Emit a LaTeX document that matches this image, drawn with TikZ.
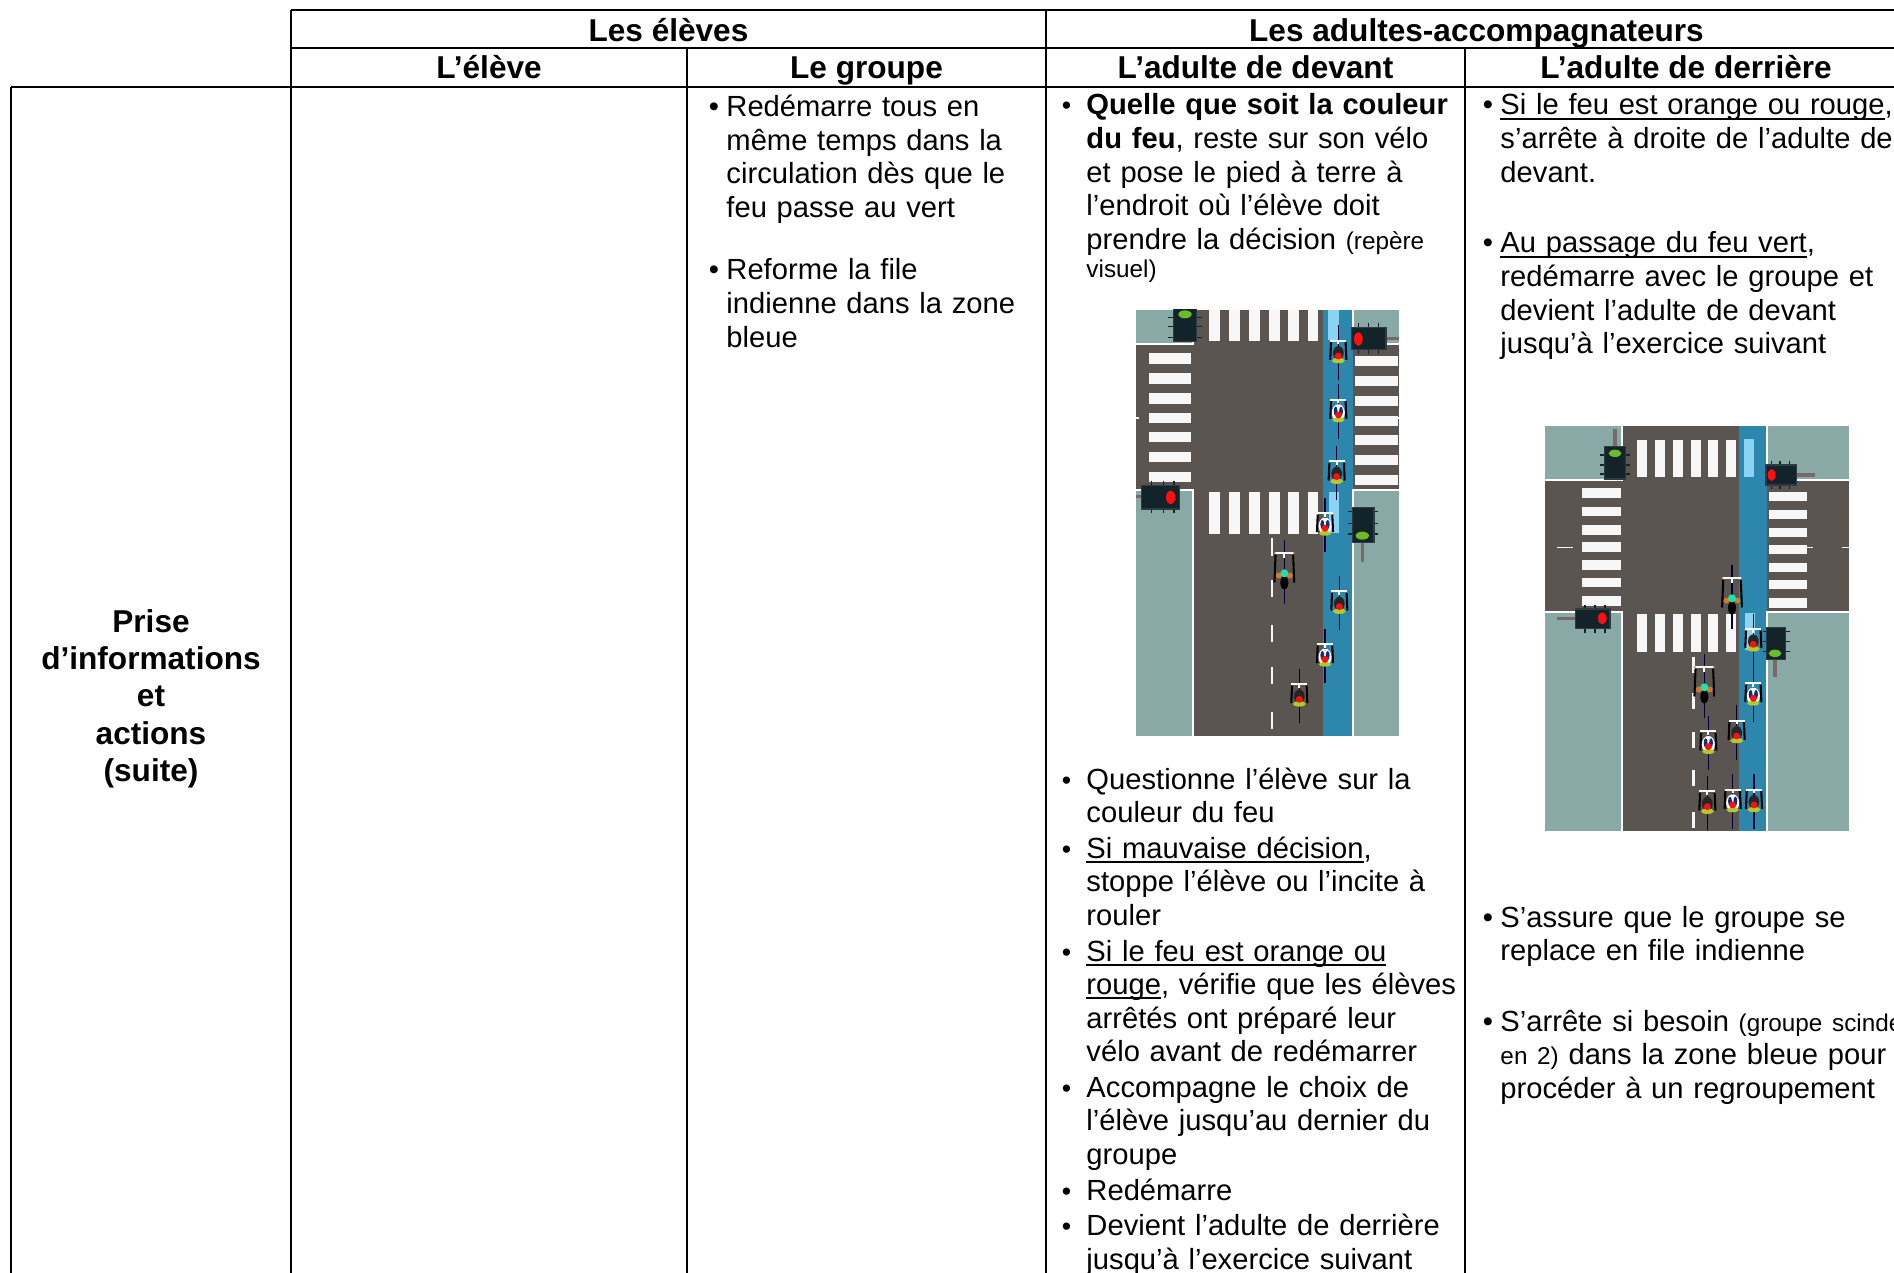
\documentclass[tikz,border=0pt]{standalone}
\usepackage{fontspec}
\setmainfont{Liberation Sans}
\newsavebox\undlbox
\newcommand\undl[1]{\leavevmode\sbox\undlbox{#1}\rlap{\rule[-1.9pt]{\wd\undlbox}{0.8pt}}\usebox\undlbox}
\definecolor{sidew}{HTML}{88A9A6}
\definecolor{roadc}{HTML}{5A5551}
\definecolor{lanec}{HTML}{2D87AC}
\definecolor{lanel}{HTML}{89D4F4}
\definecolor{tlc}{HTML}{13232A}
\definecolor{tlb}{HTML}{2C3C42}
\definecolor{redl}{HTML}{FF1010}
\definecolor{greenl}{HTML}{6DBB2A}
\definecolor{polec}{HTML}{7A6866}
\definecolor{ygreen}{HTML}{B5C92A}
\definecolor{navyk}{HTML}{1A2A7A}
\definecolor{adultg}{HTML}{22E0A8}
\definecolor{orangek}{HTML}{D9782A}
\newcommand\bulA{\leavevmode\llap{\textbullet\hspace{3pt}}}
\newcommand\bulB{\leavevmode\llap{{\fontsize{11}{11}\selectfont\textbullet}\hspace{6.3pt}}}
\newcommand\smallr{\fontsize{10}{11.5}\selectfont}
\tikzset{
  grid/.style={line width=0.9pt, black},
  hdr/.style={anchor=base, inner sep=0pt, font=\fontsize{13}{15.3}\selectfont\bfseries},
  rowhdr/.style={anchor=base, inner sep=0pt, text width=120pt, align=center, font=\fontsize{13}{15.3}\selectfont\bfseries},
  txt/.style={anchor=base west, inner sep=0pt, text width=230pt, align=left, font=\fontsize{12}{13.8}\selectfont},
  zebra/.style={fill=white!97!black},
  edgew/.style={draw=white, line width=0.9pt},
  tlbox/.style={fill=tlc, draw=tlb, line width=0.6pt},
  pole/.style={draw=polec, line width=1.3pt},
  tick/.style={draw=tlc, line width=0.5pt},
  bk/.style={draw=black!80!blue, line width=0.45pt},
  hb/.style={draw=white, line width=0.75pt},
  arm/.style={draw=black, line width=0.85pt}
}
% cyclists (coordinates in the 3x zoom units of the enclosing scope)
\newcommand\kidD[2]{\begin{scope}[shift={(#1,#2)}, scale=1.15]
    \draw[bk] (0,-80)--(0,62);
    \draw[hb] (-21,-40)--(21,-40) (0,-40)--(0,-30);
    \draw[arm] (-19,-36)--(-21,10) (19,-36)--(21,10);
    \fill[black!85] (0,-8) ellipse[x radius=14, y radius=18];
    \fill[ygreen] (0,12) ellipse[x radius=17, y radius=7];
    \fill[redl] (0,0) circle[radius=9];
  \end{scope}}
\newcommand\kidW[2]{\begin{scope}[shift={(#1,#2)}, scale=1.15]
    \draw[bk] (0,-80)--(0,62);
    \draw[hb] (-21,-40)--(21,-40) (0,-40)--(0,-30);
    \draw[arm] (-19,-36)--(-21,10) (19,-36)--(21,10);
    \fill[white] (0,-6) ellipse[x radius=17, y radius=22];
    \fill[navyk] (-7,-10) ellipse[x radius=5, y radius=12];
    \fill[navyk] (7,-10) ellipse[x radius=5, y radius=12];
    \fill[ygreen] (0,13) ellipse[x radius=16, y radius=6];
    \fill[redl] (0,0) circle[radius=9];
  \end{scope}}
\newcommand\adultC[2]{\begin{scope}[shift={(#1,#2)}, scale=1.1]
    \draw[bk] (0,-92)--(0,85);
    \draw[hb] (-26,-55)--(26,-55) (0,-55)--(0,-42);
    \fill[orangek] (-26,-55) circle[radius=3] (26,-55) circle[radius=3];
    \draw[arm] (-24,-50)--(-27,25) (24,-50)--(27,25);
    \fill[orangek] (-15,6) circle[radius=8] (15,6) circle[radius=8];
    \fill[black] (0,26) ellipse[x radius=11, y radius=18];
    \fill[adultg] (0,0) circle[radius=11];
  \end{scope}}
\begin{document}
\begin{tikzpicture}[x=0.41152pt, y=-0.41152pt]
\path[use as bounding box, fill=white] (0,0) rectangle (1894,1273);

% ---------- table grid ----------
\draw[grid] (291,10) -- (1894,10);
\draw[grid] (291,48) -- (1894,48);
\draw[grid] (11,87) -- (1894,87);
\draw[grid] (291,10) -- (291,1273);
\draw[grid] (687,48) -- (687,1273);
\draw[grid] (1046,10) -- (1046,1273);
\draw[grid] (1465,48) -- (1465,1273);
\draw[grid] (11,87) -- (11,1273);

% ---------- headers ----------
\node[hdr] (h1) at (668.5,41.5) {Les élèves};
\node[hdr] (h2) at (1476.5,41.5) {Les adultes-accompagnateurs};
\node[hdr] (h3) at (489,78.5) {L’élève};
\node[hdr] (h4) at (866.5,78.5) {Le groupe};
\node[hdr] (h5) at (1255.5,78.5) {L’adulte de devant};
\node[hdr] (h6) at (1686,78.5) {L’adulte de derrière};
\node[rowhdr] (rh) at (151,632.5) {Prise\\d’informations\\et\\actions\\(suite)};

% ---------- Le groupe ----------
\node[txt] (g1) at (726,116.5) {\bulA Redémarre tous en\\même temps dans la\\circulation dès que le\\feu passe au vert};
\node[txt] (g2) at (726,280) {\bulA Reforme la file\\indienne dans la zone\\bleue};

% ---------- L'adulte de devant ----------
\node[txt] (a1) at (1086,115) {\bulB\textbf{Quelle que soit la couleur}\\\textbf{du feu}, reste sur son vélo\\et pose le pied à terre à\\l’endroit où l’élève doit\\prendre la décision {\smallr (repère}\\[-2.3pt]{\smallr visuel)}};
\node[txt] (a2) at (1086,789) {\bulB Questionne l’élève sur la\\couleur du feu};
\node[txt] (a3) at (1086,858) {\bulB\undl{Si mauvaise décision},\\stoppe l’élève ou l’incite à\\rouler};
\node[txt] (a4) at (1086,961) {\bulB\undl{Si le feu est orange ou}\\\undl{rouge}, vérifie que les élèves\\arrêtés ont préparé leur\\vélo avant de redémarrer};
\node[txt] (a5) at (1086,1097) {\bulB Accompagne le choix de\\l’élève jusqu’au dernier du\\groupe};
\node[txt] (a6) at (1086,1200) {\bulB Redémarre};
\node[txt] (a7) at (1086,1235.5) {\bulB Devient l’adulte de derrière\\jusqu’à l’exercice suivant};

% ---------- L'adulte de derriere ----------
\node[txt] (b1) at (1500,115) {\bulA\undl{Si le feu est orange ou rouge},\\s’arrête à droite de l’adulte de\\devant.};
\node[txt] (b2) at (1500,253) {\bulA\undl{Au passage du feu vert},\\redémarre avec le groupe et\\devient l’adulte de devant\\jusqu’à l’exercice suivant};
\node[txt] (b3) at (1500,927) {\bulA S’assure que le groupe se\\replace en file indienne};
\node[txt] (b4) at (1500,1031) {\bulA S’arrête si besoin {\smallr (groupe scindé}\\{\smallr en 2)} dans la zone bleue pour\\procéder à un regroupement};

% ---------- intersection 1 ----------
\begin{scope}[shift={(1050,280)}, scale=1/3]
\clip (258,90) rectangle (1047,1367);
\fill[sidew] (258,90) rectangle (1047,1367);
\fill[roadc] (430,90) rectangle (818,1367);
\fill[roadc] (258,193) rectangle (1047,630);
\fill[lanec] (818,90) rectangle (910,1367);
\fill[lanel] (834,90) rectangle (866,180);
\fill[lanel] (837,635) rectangle (868,758);
\foreach \x in {478,538,598,658,715,773} {
  \fill[zebra] (\x,90) rectangle ++(32,93);
  \fill[zebra] (\x,637) rectangle ++(32,125);
}
\foreach \y in {220,280,340,398,455,515,575}
  \fill[zebra] (296,\y) rectangle ++(126,31);
\foreach \y in {228,288,348,407,465,525,585}
  \fill[zebra] (916,\y) rectangle ++(127,31);
\draw[edgew] (258,191) -- (430,191) -- (430,90);
\draw[edgew] (910,90) -- (910,191) -- (1047,191);
\draw[edgew] (258,631) -- (430,631) -- (430,1367);
\draw[edgew] (1047,631) -- (910,631) -- (910,1367);
\foreach \y in {775,900,1035,1160,1295}
  \fill[zebra] (662,\y) rectangle ++(7,52);
\fill[zebra] (258,411) rectangle (267,416);
\fill[zebra] (1038,411) rectangle (1047,416);
% lights
\draw[tick] (355,112)--(455,112) (355,140)--(455,140) (355,172)--(455,172);
\draw[tlbox] (370,85) rectangle (440,185);
\fill[greenl] (405,103) ellipse[x radius=20, y radius=12];
\draw[pole] (1008,175) -- (1047,175);
\draw[tick] (925,128)--(925,222) (955,128)--(955,222) (985,128)--(985,222);
\draw[tlbox] (905,142) rectangle (1008,208);
\fill[redl] (925,177) ellipse[x radius=13, y radius=20];
\draw[pole] (258,650) -- (275,650);
\draw[tick] (305,603)--(305,700) (340,603)--(340,700) (372,603)--(372,700);
\draw[tlbox] (275,617) rectangle (388,687);
\fill[redl] (362,652) ellipse[x radius=14, y radius=20];
\draw[pole] (937,787) -- (937,845);
\draw[tick] (895,695)--(985,695) (895,730)--(985,730) (895,762)--(985,762);
\draw[tlbox] (908,682) rectangle (972,787);
\fill[greenl] (937,767) ellipse[x radius=20, y radius=12];
% cyclists
\kidD{865}{228}
\kidW{865}{405}
\kidD{860}{590}
\kidW{825}{745}
\kidD{868}{980}
\kidW{825}{1138}
\kidD{748}{1258}
\adultC{703}{880}
\end{scope}

% ---------- intersection 2 ----------
\begin{scope}[shift={(1460,400)}, scale=1/3]
\clip (255,78) rectangle (1167,1292);
\fill[sidew] (255,78) rectangle (1167,1292);
\fill[roadc] (487,78) rectangle (838,1292);
\fill[roadc] (255,243) rectangle (1167,636);
\fill[lanec] (838,78) rectangle (920,1292);
\fill[lanel] (852,118) rectangle (882,230);
\fill[lanel] (855,640) rectangle (885,750);
\foreach \x in {530,585,640,692,745,798} {
  \fill[zebra] (\x,120) rectangle ++(30,112);
  \fill[zebra] (\x,642) rectangle ++(30,113);
}
\foreach \y in {265,320,375,427,480,533,588}
  \fill[zebra] (367,\y) rectangle ++(115,29);
\foreach \y in {275,330,383,435,488,540,595}
  \fill[zebra] (927,\y) rectangle ++(115,28);
\draw[edgew] (255,241) -- (487,241) -- (487,78);
\draw[edgew] (920,78) -- (920,241) -- (1167,241);
\draw[edgew] (255,637) -- (487,637) -- (487,1292);
\draw[edgew] (1167,637) -- (920,637) -- (920,1292);
\fill[zebra] (290,440) rectangle (338,445);
\fill[zebra] (1040,440) rectangle (1060,445);
\fill[zebra] (1145,440) rectangle (1167,445);
\foreach \y in {770,880,995,1110,1235}
  \fill[zebra] (697,\y) rectangle ++(7,48);
% lights
\draw[pole] (465,88) -- (465,140);
\draw[tick] (420,165)--(510,165) (420,195)--(510,195) (420,222)--(510,222);
\draw[tlbox] (433,140) rectangle (497,237);
\fill[greenl] (465,160) ellipse[x radius=19, y radius=11];
\draw[pole] (1010,225) -- (1065,225);
\draw[tick] (935,182)--(935,268) (960,182)--(960,268) (988,182)--(988,268);
\draw[tlbox] (918,195) rectangle (1010,255);
\fill[redl] (935,225) ellipse[x radius=12, y radius=18];
\draw[pole] (290,655) -- (347,655);
\draw[tick] (375,614)--(375,698) (405,614)--(405,698) (435,614)--(435,698);
\draw[tlbox] (347,627) rectangle (450,685);
\fill[redl] (427,655) ellipse[x radius=13, y radius=18];
\draw[pole] (945,778) -- (945,830);
\draw[tick] (908,695)--(990,695) (908,725)--(990,725) (908,755)--(990,755);
\draw[tlbox] (920,683) rectangle (977,778);
\fill[greenl] (945,760) ellipse[x radius=19, y radius=11];
% cyclists
\kidD{880}{733}
\kidW{880}{895}
\kidD{830}{1008}
\kidW{745}{1040}
\kidD{742}{1220}
\kidW{818}{1215}
\kidD{882}{1215}
\adultC{816}{595}
\adultC{733}{862}
\end{scope}
\end{tikzpicture}
\end{document}
